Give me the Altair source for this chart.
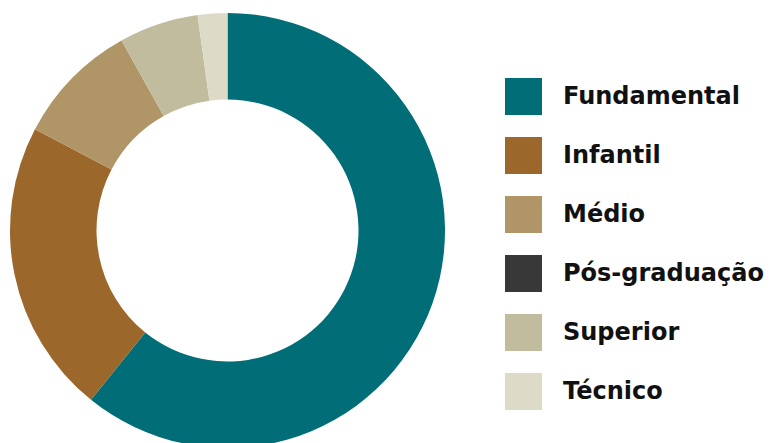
import altair as alt
import pandas as pd

categories = ["Fundamental", "Infantil", "Médio", "Pós-graduação", "Superior", "Técnico"]
values = [60.8, 21.9, 9.2, 0.0, 5.9, 2.2]
colors = ["#006D77", "#9C672B", "#B09566", "#383838", "#C2BC9F", "#DDDBC8"]

df = pd.DataFrame({"nivel": categories, "valor": values, "ordem": list(range(len(categories)))})

chart = alt.Chart(df).mark_arc(outerRadius=217.5, innerRadius=131).encode(
    theta=alt.Theta("valor:Q", stack=True),
    order=alt.Order("ordem:Q"),
    color=alt.Color(
        "nivel:N",
        scale=alt.Scale(domain=categories, range=colors),
        sort=categories,
        legend=alt.Legend(
            title=None,
            orient="none",
            legendX=495,
            legendY=65,
            symbolType="square",
            symbolSize=1369,
            symbolStrokeWidth=0,
            labelFontSize=24,
            labelFont="DejaVu Sans",
            labelFontWeight="bold",
            labelColor="#111111",
            labelOffset=21,
            rowPadding=22,
            labelLimit=300,
        ),
    ),
).properties(
    width=435,
    height=435,
    padding={"left": 2, "top": 5, "right": 0, "bottom": 0},
).configure_view(strokeWidth=0)

chart.save("out.html", embed_options={"renderer": "svg", "actions": False})
